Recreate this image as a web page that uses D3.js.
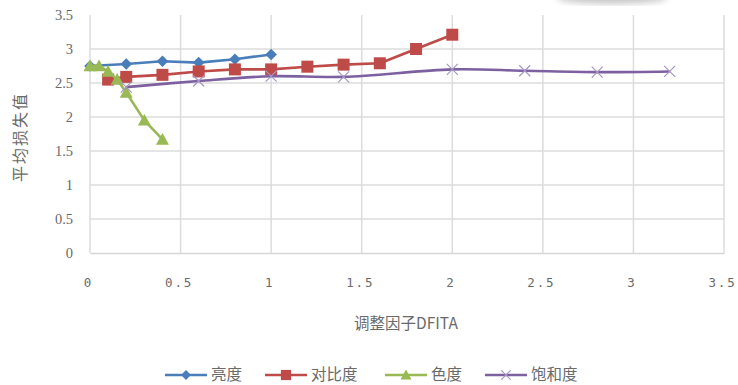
<!DOCTYPE html>
<html><head><meta charset="utf-8">
<script src="https://cdn.jsdelivr.net/npm/d3@7"></script>
<style>
html,body{margin:0;padding:0;background:#fff;}
svg{display:block;}
</style></head>
<body>
<svg id="c" width="738" height="385"></svg>
<script>
// ---- data ----
const seriesNames = ["亮度", "对比度", "色度", "饱和度"];
const brightnessX = [0, 0.2, 0.4, 0.6, 0.8, 1.0];
const brightnessY = [2.75, 2.78, 2.82, 2.80, 2.85, 2.92];
const contrastX = [0.1, 0.2, 0.4, 0.6, 0.8, 1.0, 1.2, 1.4, 1.6, 1.8, 2.0];
const contrastY = [2.55, 2.59, 2.62, 2.67, 2.70, 2.70, 2.74, 2.77, 2.79, 3.00, 3.21];
const hueX = [0, 0.05, 0.1, 0.15, 0.2, 0.3, 0.4];
const hueY = [2.75, 2.75, 2.67, 2.55, 2.36, 1.95, 1.67];
const saturationX = [0.2, 0.6, 1.0, 1.4, 2.0, 2.4, 2.8, 3.2];
const saturationY = [2.44, 2.53, 2.60, 2.59, 2.70, 2.68, 2.66, 2.67];
const xTicks = [0, 0.5, 1, 1.5, 2, 2.5, 3, 3.5];
const yTicks = [0, 0.5, 1, 1.5, 2, 2.5, 3, 3.5];
const xTitle = "调整因子DFITA";
const yTitle = "平均损失值";

const colors = ["#4A7EBB", "#BE4B48", "#98B954", "#7D60A0"];
const markerColors = ["#4A7EBB", "#BE4B48", "#98B954", "#A596C6"];
const markers = ["diamond", "square", "triangle", "cross"];

const series = [
  {name: seriesNames[0], xs: brightnessX, ys: brightnessY, smooth: false},
  {name: seriesNames[1], xs: contrastX, ys: contrastY, smooth: false},
  {name: seriesNames[2], xs: hueX, ys: hueY, smooth: false},
  {name: seriesNames[3], xs: saturationX, ys: saturationY, smooth: true}
].map((s, i) => ({...s, color: colors[i], mcolor: markerColors[i], marker: markers[i],
  pts: s.xs.map((x, j) => [x, s.ys[j]])}));

const svg = d3.select("#c");
const x = d3.scaleLinear().domain([0, 3.5]).range([90, 724]);
const y = d3.scaleLinear().domain([0, 3.5]).range([253, 15]);

// soft blur artifact top right
const defs = svg.append("defs");
defs.append("filter").attr("id", "blur").append("feGaussianBlur").attr("stdDeviation", 3);
svg.append("ellipse").attr("cx", 612).attr("cy", -2).attr("rx", 55).attr("ry", 6)
  .attr("fill", "#c8c8c8").attr("filter", "url(#blur)");

// gridlines
const grid = svg.append("g");
grid.selectAll("line.h").data(yTicks.filter(d => d > 0 && d < 3.5)).join("line")
  .attr("x1", x(0)).attr("x2", x(3.5)).attr("y1", d => y(d)).attr("y2", d => y(d))
  .attr("stroke", "#dcdcdc").attr("stroke-width", 1.3);
grid.selectAll("line.v").data(xTicks).join("line")
  .attr("x1", d => x(d)).attr("x2", d => x(d)).attr("y1", y(0)).attr("y2", y(3.5))
  .attr("stroke", "#dcdcdc").attr("stroke-width", 1.5);

// axes
const yAxis = d3.axisLeft(y).tickValues(yTicks).tickSize(0).tickPadding(17)
  .tickFormat(d => d3.format("")(d));
const gy = svg.append("g").attr("transform", `translate(${x(0)},0)`).call(yAxis);
gy.select(".domain").remove();
gy.selectAll("text").attr("fill", "#6a6a6a").attr("font-size", 14.5)
  .attr("font-family", "'Liberation Serif', 'DejaVu Serif', serif");

const xAxis = d3.axisBottom(x).tickValues(xTicks).tickSize(0).tickPadding(25)
  .tickFormat(d => d3.format("")(d));
const gx = svg.append("g").attr("transform", `translate(0,${y(0)})`).call(xAxis);
gx.select(".domain").attr("stroke", "#d6d6d6").attr("stroke-width", 1.5);
gx.selectAll("text").attr("fill", "#6a6a6a").attr("font-size", 12.5)
  .attr("font-family", "'DejaVu Sans Mono', 'Liberation Mono', monospace")
  .attr("letter-spacing", 1.8).attr("dx", -2);

// axis titles
svg.append("text").attr("x", 406).attr("y", 329).attr("text-anchor", "middle")
  .attr("fill", "#6a6a6a").attr("font-size", 15.5)
  .attr("font-family", "'Noto Sans CJK SC', sans-serif").text(xTitle);
svg.append("text").attr("transform", "translate(26,137) rotate(-90)")
  .attr("text-anchor", "middle").attr("fill", "#6a6a6a").attr("font-size", 16)
  .attr("letter-spacing", 2)
  .attr("font-family", "'Noto Sans CJK SC', sans-serif").text(yTitle);

// marker drawer
function drawMarker(g, type, color, cx, cy, scale = 1) {
  if (type === "diamond") {
    const r = 5.8 * scale;
    g.append("path").attr("d", `M${cx},${cy - r}L${cx + r},${cy}L${cx},${cy + r}L${cx - r},${cy}Z`).attr("fill", color);
  } else if (type === "square") {
    const r = 6 * scale;
    g.append("rect").attr("x", cx - r).attr("y", cy - r).attr("width", 2 * r).attr("height", 2 * r).attr("fill", color);
  } else if (type === "triangle") {
    const r = 6.5 * scale;
    g.append("path").attr("d", `M${cx},${cy - r}L${cx + r},${cy + r * 0.8}L${cx - r},${cy + r * 0.8}Z`).attr("fill", color);
  } else if (type === "cross") {
    const r = 5.5 * scale;
    g.append("path").attr("d", `M${cx - r},${cy - r}L${cx + r},${cy + r}M${cx - r},${cy + r}L${cx + r},${cy - r}`)
      .attr("stroke", color).attr("stroke-width", 1.2).attr("fill", "none");
  }
}

// series
series.forEach(s => {
  const g = svg.append("g");
  const line = d3.line().x(d => x(d[0])).y(d => y(d[1]))
    .curve(s.smooth ? d3.curveCatmullRom.alpha(0.5) : d3.curveLinear);
  g.append("path").datum(s.pts).attr("d", line).attr("fill", "none")
    .attr("stroke", s.color).attr("stroke-width", 2.6).attr("stroke-linejoin", "round");
  s.pts.forEach(p => drawMarker(g, s.marker, s.mcolor, x(p[0]), y(p[1])));
});

// legend
const legendX = [165, 265, 385, 485];
const lg = svg.append("g");
series.forEach((s, i) => {
  const lx = legendX[i], ly = 375;
  lg.append("line").attr("x1", lx).attr("x2", lx + 42).attr("y1", ly).attr("y2", ly)
    .attr("stroke", s.color).attr("stroke-width", 2.6);
  drawMarker(lg, s.marker, s.mcolor, lx + 21, ly, 0.85);
  lg.append("text").attr("x", lx + 46).attr("y", ly + 5).attr("fill", "#6a6a6a")
    .attr("font-size", 15.5).attr("font-family", "'Noto Sans CJK SC', sans-serif").text(s.name);
});
</script>
</body></html>
